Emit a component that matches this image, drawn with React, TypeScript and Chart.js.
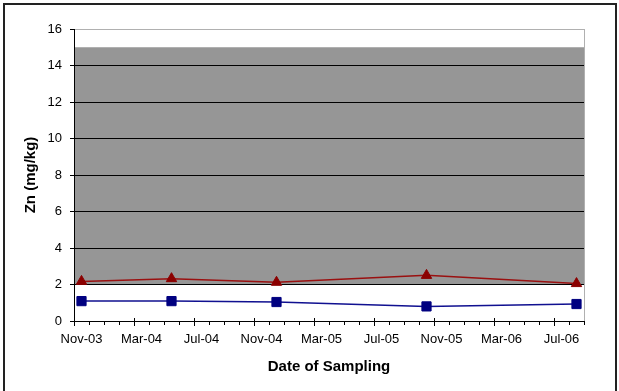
import React, { useEffect, useRef } from "react";
import { Chart, registerables } from "chart.js";

Chart.register(...registerables);

// ---- data ----
const axisStartYear = 2003;
const axisStartMonth = 11; // November
const axisMonthCount = 34; // Nov-03 .. Aug-06
const tickLabels = ["Nov-03", "Mar-04", "Jul-04", "Nov-04", "Mar-05", "Jul-05", "Nov-05", "Mar-06", "Jul-06"];
const tickLabelEvery = 4;

const sampleDates = ["2003-11", "2004-05", "2004-12", "2005-10", "2006-08"];
const seriesRed = [2.17, 2.32, 2.12, 2.5, 2.05];
const seriesBlue = [1.09, 1.09, 1.04, 0.8, 0.93];

const bandLow = 2;
const bandHigh = 15;

const yMin = 0;
const yMax = 16;
const yStep = 2;

const xTitle = "Date of Sampling";
const yTitle = "Zn (mg/kg)";

function monthSlotCenter(d: string): number {
  const [y, m] = d.split("-").map(Number);
  return (y - axisStartYear) * 12 + (m - axisStartMonth) + 0.5;
}

const FONT = 'Arial, "Liberation Sans", sans-serif';

const decorPlugin = {
  id: "decor",
  beforeDraw(chart: any) {
    const { ctx, chartArea, scales } = chart;
    const y = scales.y;
    ctx.save();
    // outer frame
    ctx.strokeStyle = "#222";
    ctx.lineWidth = 2;
    ctx.strokeRect(4, 4, 612, 400);
    // band
    const yTop = y.getPixelForValue(bandHigh);
    const yBot = y.getPixelForValue(bandLow);
    ctx.fillStyle = "#969696";
    ctx.fillRect(chartArea.left, yTop, chartArea.right - chartArea.left, yBot - yTop);
    ctx.restore();
  },
  afterDraw(chart: any) {
    const { ctx, chartArea, scales } = chart;
    const x = scales.x;
    ctx.save();
    // right border of plot area
    ctx.strokeStyle = "#b0b0b0";
    ctx.lineWidth = 1;
    ctx.beginPath();
    const rx = Math.round(chartArea.right) + 0.5;
    ctx.moveTo(rx, chartArea.top);
    ctx.lineTo(rx, chartArea.bottom);
    ctx.stroke();
    // major ticks crossing the axis
    ctx.strokeStyle = "#000";
    ctx.beginPath();
    for (let i = 0; i <= axisMonthCount; i += tickLabelEvery) {
      const px = Math.round(x.getPixelForValue(i)) + 0.5;
      ctx.moveTo(px, chartArea.bottom - 3);
      ctx.lineTo(px, chartArea.bottom + 5);
    }
    ctx.stroke();
    ctx.restore();
  },
};

export default function App() {
  const ref = useRef<HTMLCanvasElement | null>(null);
  useEffect(() => {
    if (!ref.current) return;
    const chart = new Chart(ref.current, {
      type: "line",
      data: {
        datasets: [
          {
            label: "Series 1",
            data: sampleDates.map((d, i) => ({ x: monthSlotCenter(d), y: seriesRed[i] })),
            borderColor: "#9a1010",
            backgroundColor: "#8b0000",
            borderWidth: 1.5,
            pointStyle: "triangle",
            pointRadius: 6,
            pointBorderColor: "#8b0000",
            pointBackgroundColor: "#8b0000",
            pointBorderWidth: 1,
            tension: 0,
          },
          {
            label: "Series 2",
            data: sampleDates.map((d, i) => ({ x: monthSlotCenter(d), y: seriesBlue[i] })),
            borderColor: "#101090",
            backgroundColor: "#000080",
            borderWidth: 1.5,
            pointStyle: "rect",
            pointRadius: 6.5,
            pointBorderColor: "#000080",
            pointBackgroundColor: "#000080",
            pointBorderWidth: 1,
            tension: 0,
          },
        ],
      },
      options: {
        animation: false,
        responsive: false,
        maintainAspectRatio: false,
        layout: { padding: { top: 29, right: 35, left: 0, bottom: 0 } },
        plugins: { legend: { display: false }, tooltip: { enabled: false } },
        scales: {
          x: {
            type: "linear",
            min: 0,
            max: axisMonthCount,
            afterFit: (s: any) => {
              s.height = 70;
            },
            afterBuildTicks: (s: any) => {
              const t = [];
              for (let i = 0; i <= axisMonthCount; i++) t.push({ value: i });
              s.ticks = t;
            },
            ticks: {
              autoSkip: false,
              maxRotation: 0,
              padding: 7,
              labelOffset: 7.5,
              color: "#000",
              font: { family: FONT, size: 13 },
              callback: (v: any) => {
                const n = Number(v);
                return n % tickLabelEvery === 0 && tickLabels[n / tickLabelEvery] ? tickLabels[n / tickLabelEvery] : "";
              },
            },
            grid: {
              display: true,
              drawOnChartArea: false,
              drawTicks: true,
              tickLength: 4,
              tickColor: "#000",
            },
            border: { display: true, color: "#000", width: 1 },
            title: {
              display: true,
              text: xTitle,
              color: "#000",
              font: { family: FONT, size: 15, weight: "bold" },
              padding: { top: 0, bottom: 15 },
            },
          },
          y: {
            type: "linear",
            min: yMin,
            max: yMax,
            afterFit: (s: any) => {
              s.width = 74;
            },
            ticks: {
              stepSize: yStep,
              padding: 8,
              color: "#000",
              font: { family: FONT, size: 13 },
            },
            grid: {
              display: true,
              drawTicks: true,
              tickLength: 4,
              tickColor: "#000",
              color: (c: any) => {
                const v = c.tick ? c.tick.value : null;
                if (v === yMin) return "rgba(0,0,0,0)";
                if (v === yMax) return "#b0b0b0";
                return "#000";
              },
            },
            border: { display: true, color: "#000", width: 1 },
            title: {
              display: true,
              text: yTitle,
              color: "#000",
              font: { family: FONT, size: 15, weight: "bold" },
              padding: { top: 22, bottom: 0 },
            },
          },
        },
      },
      plugins: [decorPlugin],
    } as any);
    return () => chart.destroy();
  }, []);
  return (
    <div style={{ position: "absolute", left: 0, top: 0, width: 619, height: 391, background: "#fff" }}>
      <canvas ref={ref} width={619} height={391} style={{ width: 619, height: 391, display: "block" }} />
    </div>
  );
}
